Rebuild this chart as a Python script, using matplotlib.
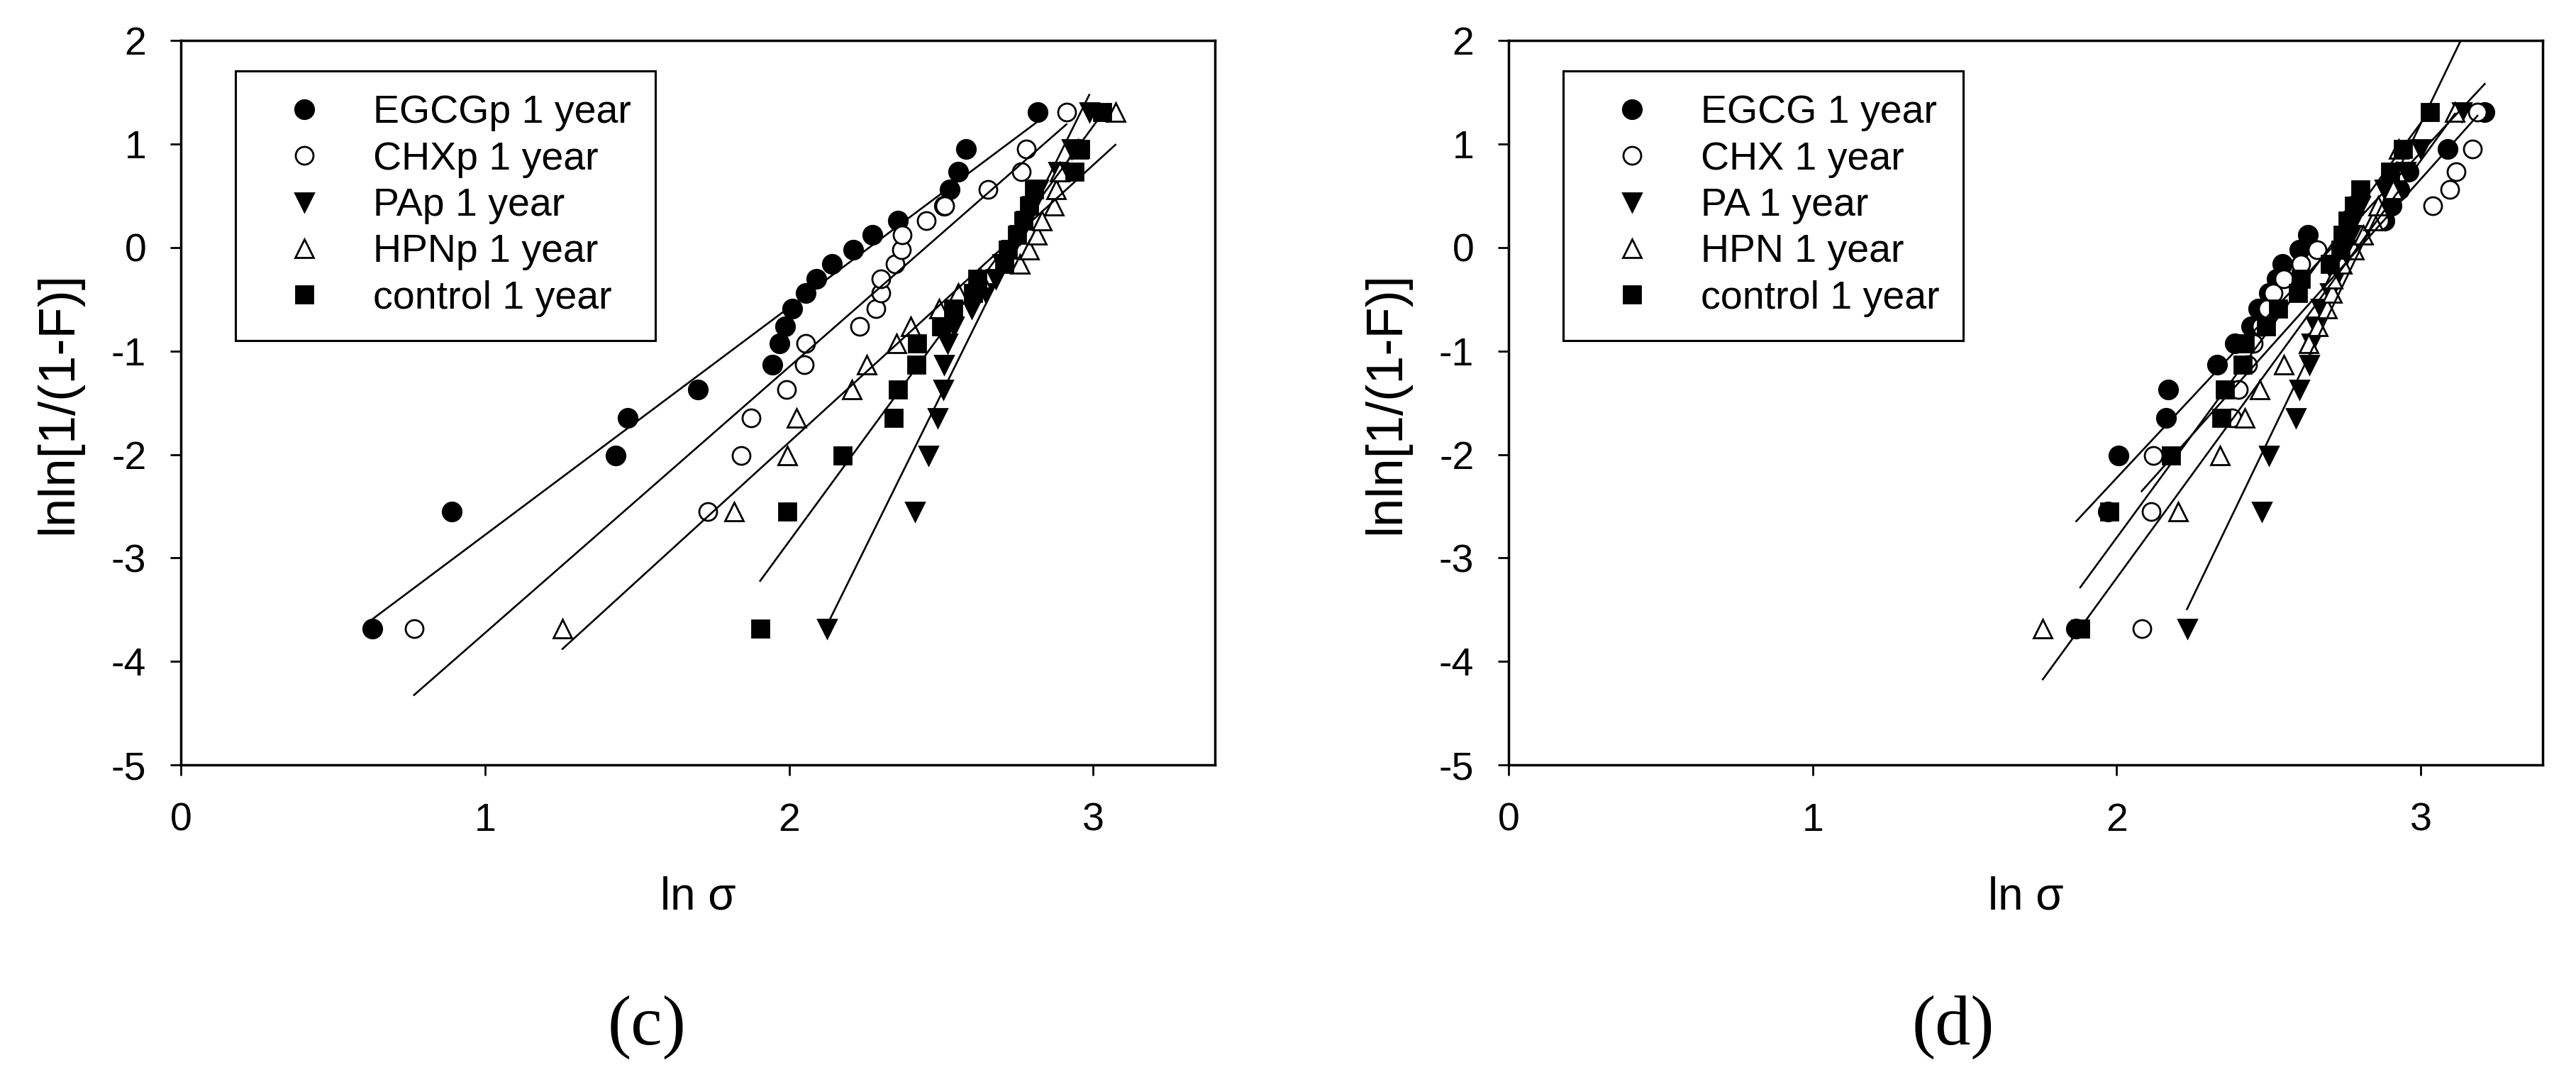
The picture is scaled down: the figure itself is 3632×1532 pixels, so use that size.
import matplotlib
matplotlib.use("Agg")
import matplotlib.pyplot as plt
import numpy as np

plt.rcParams["font.family"] = ["Liberation Sans", "DejaVu Sans"]
plt.rcParams["axes.unicode_minus"] = False

# Weibull plotting positions, lnln[1/(1-F)], shared by every series (20 specimens)
lnln_levels = [-3.68, -2.55, -2.01, -1.65, -1.37, -1.13, -0.93, -0.76, -0.59, -0.44,
               -0.30, -0.16, -0.02, 0.12, 0.26, 0.40, 0.56, 0.73, 0.95, 1.31]

# panel (c): ln sigma for each series, same order as lnln_levels
egcgp_x = [0.63, 0.89, 1.43, 1.47, 1.70, 1.945, 1.968, 1.987, 2.010, 2.054,
           2.090, 2.141, 2.211, 2.273, 2.357, 2.51, 2.528, 2.557, 2.582, 2.818]
chxp_x = [0.767, 1.732, 1.843, 1.876, 1.991, 2.049, 2.054, 2.233, 2.285, 2.301,
          2.303, 2.349, 2.370, 2.373, 2.451, 2.512, 2.655, 2.764, 2.780, 2.912]
pap_x = [2.124, 2.414, 2.459, 2.488, 2.506, 2.510, 2.521, 2.541, 2.60, 2.646,
         2.68, 2.70, 2.73, 2.76, 2.78, 2.80, 2.82, 2.885, 2.93, 2.987]
hpnp_x = [1.255, 1.82, 1.993, 2.024, 2.206, 2.256, 2.354, 2.401, 2.494, 2.556,
          2.63, 2.758, 2.79, 2.816, 2.832, 2.871, 2.879, 2.89, 2.95, 3.073]
ctrlp_x = [1.905, 1.993, 2.177, 2.345, 2.357, 2.419, 2.421, 2.50, 2.54, 2.605,
           2.62, 2.707, 2.72, 2.75, 2.77, 2.79, 2.805, 2.938, 2.957, 3.03]

# panel (d)
egcg_x = [1.867, 1.971, 2.005, 2.162, 2.168, 2.331, 2.389, 2.442, 2.466, 2.50,
          2.527, 2.544, 2.601, 2.628, 2.88, 2.904, 2.93, 2.96, 3.088, 3.21]
chx_x = [2.082, 2.114, 2.121, 2.380, 2.401, 2.43, 2.45, 2.474, 2.495, 2.515,
         2.55, 2.605, 2.658, 2.80, 2.863, 3.039, 3.096, 3.116, 3.169, 3.186]
pa_x = [2.231, 2.478, 2.501, 2.589, 2.601, 2.634, 2.64, 2.655, 2.67, 2.70,
        2.72, 2.74, 2.75, 2.77, 2.78, 2.80, 2.88, 2.95, 3.00, 3.135]
hpn_x = [1.757, 2.201, 2.340, 2.42, 2.47, 2.55, 2.630, 2.662, 2.691, 2.707,
         2.711, 2.74, 2.78, 2.81, 2.842, 2.859, 2.908, 2.92, 2.928, 3.112]
ctrl_x = [1.88, 1.975, 2.178, 2.343, 2.356, 2.413, 2.42, 2.49, 2.53, 2.597,
          2.605, 2.70, 2.736, 2.744, 2.76, 2.78, 2.801, 2.90, 2.94, 3.03]

labels_c = ["EGCGp 1 year", "CHXp 1 year", "PAp 1 year", "HPNp 1 year", "control 1 year"]
labels_d = ["EGCG 1 year", "CHX 1 year", "PA 1 year", "HPN 1 year", "control 1 year"]

# marker, face colour, size
STYLES = [("o", "black", 19), ("o", "white", 18), ("v", "black", 19),
          ("^", "white", 19), ("s", "black", 17.5)]


def draw_panel(ax, series, labels):
    y = np.array(lnln_levels)
    handles = []
    for xs, label, (mk, face, ms) in zip(series, labels, STYLES):
        xs = np.array(xs)
        h, = ax.plot(xs, y, linestyle="none", marker=mk, markersize=ms,
                     markerfacecolor=face, markeredgecolor="black",
                     markeredgewidth=2.0, label=label, zorder=3)
        handles.append(h)
        # linear regression over the data range, as in the original
        slope, icpt = np.polyfit(xs, y, 1)
        xl = np.array([xs.min(), xs.max()])
        ax.plot(xl, icpt + slope * xl, color="black", lw=1.9, zorder=4)

    ax.set_xlim(0, 3.4)
    ax.set_ylim(-5, 2)
    ax.set_xticks([0, 1, 2, 3])
    ax.set_yticks(range(-5, 3))
    ax.tick_params(direction="out", length=11, width=2, labelsize=40)
    ax.tick_params(axis="x", pad=27)
    ax.tick_params(axis="y", pad=24)
    for sp in ax.spines.values():
        sp.set_linewidth(2.5)

    ax.text(-0.118, 0.5, "lnln[1/(1-F)]", transform=ax.transAxes, rotation=90,
            ha="center", va="center", fontsize=52)
    ax.text(0.5, -0.183, "ln \u03c3", transform=ax.transAxes,
            ha="center", va="center", fontsize=46)

    leg = ax.legend(handles=handles, loc="upper left", bbox_to_anchor=(0.0528, 0.958),
                    borderaxespad=0, borderpad=0.6, labelspacing=0.24,
                    handlelength=2.3, handletextpad=0.6, numpoints=1,
                    fontsize=40, fancybox=False, framealpha=1, edgecolor="black")
    leg.get_frame().set_linewidth(2.2)


fig = plt.figure(figsize=(36.32, 15.32), dpi=100)
ax_c = fig.add_axes([0.0702, 0.2963, 0.4014, 0.6664])
ax_d = fig.add_axes([0.5856, 0.2963, 0.4014, 0.6664])

draw_panel(ax_c, [egcgp_x, chxp_x, pap_x, hpnp_x, ctrlp_x], labels_c)
draw_panel(ax_d, [egcg_x, chx_x, pa_x, hpn_x, ctrl_x], labels_d)

fig.text(0.2511, 0.0548, "(c)", ha="center", va="center", fontsize=72,
         family="Liberation Serif")
fig.text(0.7583, 0.0548, "(d)", ha="center", va="center", fontsize=72,
         family="Liberation Serif")

fig.savefig("out.png", dpi=100, facecolor="white")
